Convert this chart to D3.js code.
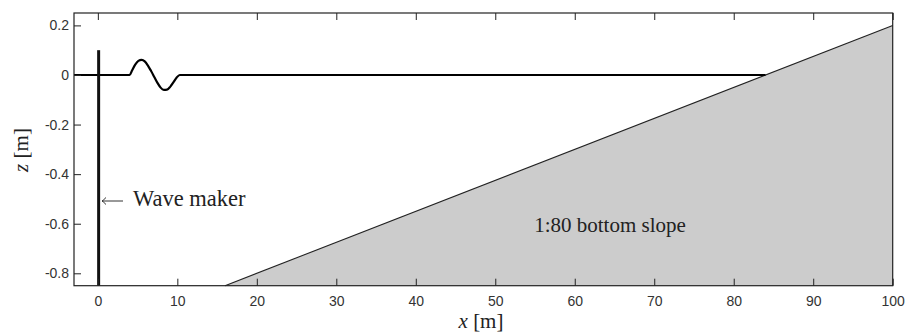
<!DOCTYPE html>
<html>
<head>
<meta charset="utf-8">
<script src="https://cdn.jsdelivr.net/npm/d3@7"></script>
<style>
  html, body { margin: 0; padding: 0; background: #fff; }
  svg { display: block; }
  .tick text { font-family: Arial, "Liberation Sans", sans-serif; font-size: 14px; fill: #333; }
  .serif { font-family: "Liberation Serif", "DejaVu Serif", serif; fill: #222; }
</style>
</head>
<body>
<svg id="chart" width="906" height="334"></svg>
<script>
// Tank geometry and free-surface profile (x in metres, z in metres)
const xDomain = [-3, 100];
const zDomain = [-0.85, 0.25];
const xTicks = [0, 10, 20, 30, 40, 50, 60, 70, 80, 90, 100];
const zTicks = [0.2, 0, -0.2, -0.4, -0.6, -0.8];
const zTickLabels = ["0.2", "0", "-0.2", "-0.4", "-0.6", "-0.8"];

// Free surface: still water with a single wave near the paddle
const surfaceX = [-3, 4.0, 4.3, 4.7, 5.1, 5.5, 5.9, 6.3, 6.7, 7.1, 7.5, 7.9, 8.3, 8.7, 9.1, 9.5, 9.9, 10.3, 84];
const surfaceZ = [0, 0, 0.018, 0.042, 0.057, 0.061, 0.055, 0.038, 0.016, -0.008, -0.032, -0.051, -0.060, -0.059, -0.048, -0.030, -0.011, 0, 0];

// Sloping bed (1:80) and the wave maker paddle
const bedX = [16, 100, 100];
const bedZ = [-0.85, 0.2, -0.85];
const paddleX = 0.1;
const paddleZ = [-0.85, 0.1];

(function draw() {
  const svg = d3.select("#chart");
  const mLeft = 74, mRight = 892.7, mTop = 13, mBottom = 285.7;

  const x = d3.scaleLinear().domain(xDomain).range([mLeft, mRight]);
  const y = d3.scaleLinear().domain(zDomain).range([mBottom, mTop]);

  // bed
  const bed = bedX.map((v, i) => [v, bedZ[i]]);
  svg.append("path")
    .attr("d", d3.line().x(d => x(d[0])).y(d => y(d[1]))(bed) + "Z")
    .attr("fill", "#cccccc")
    .attr("stroke", "none");
  svg.append("line")
    .attr("x1", x(bedX[0])).attr("y1", y(bedZ[0]))
    .attr("x2", x(bedX[1])).attr("y2", y(bedZ[1]))
    .attr("stroke", "#222").attr("stroke-width", 1.1);

  // free surface
  const surface = surfaceX.map((v, i) => [v, surfaceZ[i]]);
  svg.append("path")
    .attr("d", d3.line().x(d => x(d[0])).y(d => y(d[1])).curve(d3.curveMonotoneX)(surface))
    .attr("fill", "none")
    .attr("stroke", "#000")
    .attr("stroke-width", 2.2);

  // wave maker
  svg.append("line")
    .attr("x1", x(paddleX)).attr("x2", x(paddleX))
    .attr("y1", y(paddleZ[0])).attr("y2", y(paddleZ[1]))
    .attr("stroke", "#111").attr("stroke-width", 3);

  // axes (ticks pointing inward, mirrored on top)
  const tickLen = 7;
  const gx = svg.append("g").attr("transform", `translate(0,${mBottom})`)
    .call(d3.axisBottom(x).tickValues(xTicks).tickSize(-tickLen).tickPadding(10).tickFormat(d3.format("d")));
  const gxTop = svg.append("g").attr("transform", `translate(0,${mTop})`)
    .call(d3.axisTop(x).tickValues(xTicks).tickSize(-tickLen).tickFormat(""));
  const gy = svg.append("g").attr("transform", `translate(${mLeft},0)`)
    .call(d3.axisLeft(y).tickValues(zTicks).tickSize(-tickLen).tickPadding(5)
      .tickFormat((d, i) => zTickLabels[i]));

  [gx, gxTop, gy].forEach(g => {
    g.select(".domain").remove();
    g.selectAll(".tick line").attr("stroke", "#222").attr("stroke-width", 1);
  });

  // frame
  svg.append("rect")
    .attr("x", mLeft).attr("y", mTop)
    .attr("width", mRight - mLeft).attr("height", mBottom - mTop)
    .attr("fill", "none").attr("stroke", "#222").attr("stroke-width", 1.2);

  // annotations: left-pointing arrow and label for the paddle
  const ay = 201, ax0 = 102, ax1 = 123;
  svg.append("path")
    .attr("d", `M${ax1},${ay} L${ax0},${ay} M${ax0 + 4},${ay - 3.5} Q${ax0 + 1.5},${ay - 0.8} ${ax0},${ay} Q${ax0 + 1.5},${ay + 0.8} ${ax0 + 4},${ay + 3.5}`)
    .attr("fill", "none").attr("stroke", "#333").attr("stroke-width", 1);
  svg.append("text").attr("class", "serif")
    .attr("x", 133).attr("y", 206).attr("font-size", 22.5)
    .text("Wave maker");
  svg.append("text").attr("class", "serif")
    .attr("x", 610).attr("y", 232).attr("font-size", 21)
    .attr("text-anchor", "middle")
    .text("1:80 bottom slope");

  // axis labels
  const xl = svg.append("text").attr("class", "serif")
    .attr("x", 481).attr("y", 328).attr("font-size", 21)
    .attr("text-anchor", "middle");
  xl.append("tspan").attr("font-style", "italic").text("x");
  xl.append("tspan").text(" [m]");

  const yl = svg.append("text").attr("class", "serif")
    .attr("transform", "translate(28,150) rotate(-90)")
    .attr("font-size", 21)
    .attr("text-anchor", "middle");
  yl.append("tspan").attr("font-style", "italic").text("z");
  yl.append("tspan").text(" [m]");
})();
</script>
</body>
</html>
